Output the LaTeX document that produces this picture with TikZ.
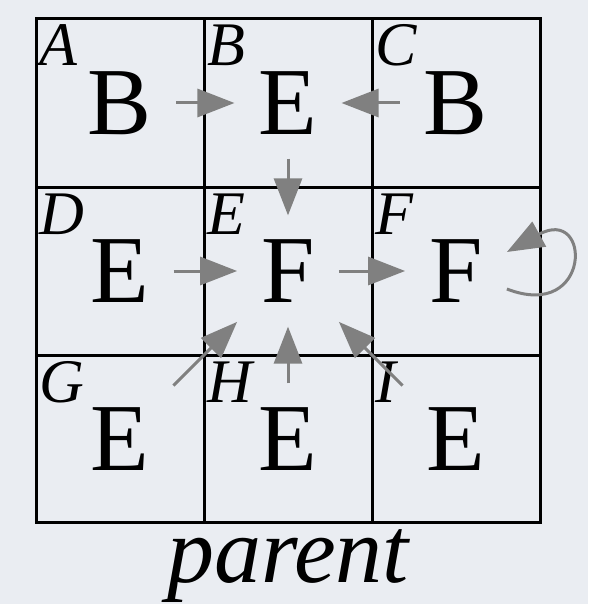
\documentclass[tikz,border=0pt]{standalone}
\usepackage{fontspec}
\setmainfont{Liberation Serif}
\usetikzlibrary{arrows.meta}
\definecolor{bgc}{HTML}{EAEDF2}
\definecolor{arrc}{HTML}{808080}
\tikzset{
  big/.style={font=\fontsize{96}{96}\selectfont, inner sep=24pt},
  lbl/.style={font=\fontsize{62}{62}\selectfont\itshape, inner sep=0pt, anchor=base west},
  gridline/.style={line width=3pt, black},
  arr/.style={line width=3pt, arrc, -{Triangle[length=37pt,width=28pt]}}
}
\begin{document}
\begin{tikzpicture}[x=1pt,y=-1pt]
\fill[bgc] (0,0) rectangle (588,604);
\useasboundingbox (0,0) rectangle (588,604);
% grid
\draw[gridline] (36,19) rectangle (540,522);
\draw[gridline] (204,19) -- (204,522);
\draw[gridline] (372,19) -- (372,522);
\draw[gridline] (36,187) -- (540,187);
\draw[gridline] (36,355) -- (540,355);
% cell labels
\node[lbl] (la) at (39,66) {A};
\node[lbl] (lb) at (207,66) {B};
\node[lbl] (lc) at (375,66) {C};
\node[lbl] (ld) at (39,234) {D};
\node[lbl] (le) at (207,234) {E};
\node[lbl] (lf) at (375,234) {F};
\node[lbl] (lg) at (39,402) {G};
\node[lbl] (lh) at (207,402) {H};
\node[lbl] (li) at (375,402) {I};
% big letters
\node[big] (a) at (120,103) {B};
\node[big] (b) at (288,103) {E};
\node[big] (c) at (456,103) {B};
\node[big] (d) at (120,271) {E};
\node[big] (e) at (288,271) {F};
\node[big] (f) at (456,271) {F};
\node[big] (g) at (120,439) {E};
\node[big] (h) at (288,439) {E};
\node[big] (i) at (456,439) {E};
% arrows
\draw[arr] (a) -- (b);
\draw[arr] (c) -- (b);
\draw[arr] (b) -- (e);
\draw[arr] (d) -- (e);
\draw[arr] (e) -- (f);
\draw[arr] (g) -- (e);
\draw[arr] (h) -- (e);
\draw[arr] (i) -- (e);
\coordinate (fs) at ([yshift=-18pt]f.east);
\coordinate (fe) at ([yshift=19pt]f.east);
\draw[arr] (fs) .. controls (592,322) and (592,205) .. (fe);
% caption
\node[font=\fontsize{94}{94}\selectfont\itshape, inner sep=0pt, anchor=base] (cap) at (288,582) {parent};
\end{tikzpicture}
\end{document}
